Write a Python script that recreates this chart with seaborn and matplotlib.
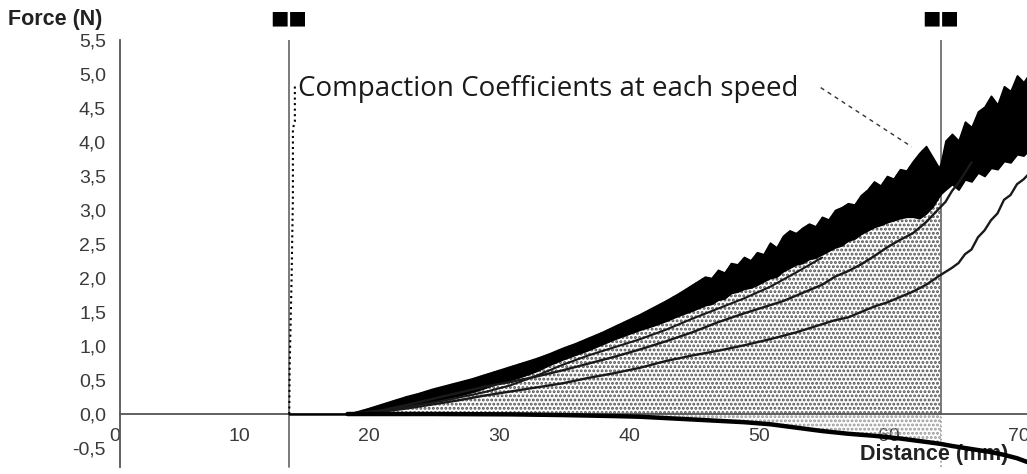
import matplotlib
matplotlib.use('Agg')
import matplotlib.pyplot as plt
import seaborn as sns
import numpy as np

sns.set_style('white')
plt.rcParams['font.family'] = ['Liberation Sans', 'DejaVu Sans']
plt.rcParams['hatch.linewidth'] = 1.4

# dense band of the fast runs (envelope)
band_x = [13, 17.5, 19, 20, 21, 22, 23, 24, 25, 26, 27, 28, 29, 30, 31, 32, 33, 34, 35, 36, 37, 38, 39, 40, 41, 42, 43, 44, 45,
          45.5, 46, 46.5, 47, 47.5, 48, 48.5, 49, 49.5, 50, 50.5, 51, 51.5, 52, 52.5, 53, 53.5, 54, 54.5, 55,
          55.5, 56, 56.5, 57, 57.5, 58, 58.5, 59, 59.5, 60, 60.5, 61, 61.5, 62, 62.5, 63, 63.15,
          63.5, 64, 64.5, 65, 65.5, 66, 66.5, 67, 67.5, 68, 68.5, 69, 69.5, 70]
band_top = [0, 0, 0.08, 0.14, 0.2, 0.26, 0.31, 0.37, 0.42, 0.47, 0.52, 0.58, 0.64, 0.7, 0.76, 0.82, 0.89, 0.97, 1.04, 1.12, 1.2, 1.29, 1.38, 1.47, 1.57, 1.67, 1.78, 1.9, 2.02,
            2.0, 2.12, 2.08, 2.22, 2.2, 2.31, 2.26, 2.38, 2.35, 2.52, 2.45, 2.62, 2.7, 2.66, 2.74, 2.8, 2.76, 2.9, 2.86, 3.0,
            3.04, 3.1, 3.08, 3.22, 3.3, 3.42, 3.36, 3.5, 3.46, 3.6, 3.58, 3.72, 3.84, 3.94, 3.78, 3.62, 3.7,
            4.02, 4.12, 4.02, 4.3, 4.22, 4.45, 4.52, 4.68, 4.55, 4.82, 4.75, 4.98, 4.88, 5.02]
band_bottom = [0, 0, 0.03, 0.05, 0.08, 0.12, 0.15, 0.19, 0.23, 0.27, 0.32, 0.38, 0.45, 0.5, 0.56, 0.63, 0.72, 0.8, 0.87, 0.94, 1.02, 1.1, 1.17, 1.24, 1.3, 1.37, 1.45, 1.52, 1.6,
               1.62, 1.68, 1.7, 1.78, 1.8, 1.84, 1.86, 1.9, 1.95, 2.0, 2.02, 2.1, 2.15, 2.2, 2.22, 2.28, 2.3, 2.35, 2.4, 2.45,
               2.48, 2.55, 2.58, 2.65, 2.7, 2.75, 2.78, 2.82, 2.85, 2.88, 2.9, 2.9, 2.88, 2.95, 3.05, 3.2, 3.24,
               3.3, 3.38, 3.3, 3.45, 3.42, 3.55, 3.5, 3.62, 3.6, 3.72, 3.7, 3.82, 3.8, 3.9]

# run just under the band
near_x = [17.5, 20, 22, 25, 28, 30, 32, 34, 36, 38, 40, 42, 44, 46, 48, 50, 52, 54]
near_y = [0, 0.04, 0.1, 0.2, 0.32, 0.42, 0.56, 0.72, 0.86, 0.98, 1.1, 1.24, 1.4, 1.55, 1.7, 1.87, 2.08, 2.3]

# middle run
mid_x = [17.5, 20, 22, 24, 26, 28, 30, 32, 34, 36, 38, 40, 42, 44, 46, 48, 50, 51, 52, 53, 54, 55, 56,
         57, 58, 59, 60, 61, 62, 63, 63.5, 64, 64.5, 65, 65.5]
mid_y = [0, 0.05, 0.13, 0.22, 0.31, 0.4, 0.47, 0.55, 0.64, 0.74, 0.84, 0.95, 1.07, 1.2, 1.35, 1.48, 1.6, 1.66, 1.74, 1.82, 1.9, 2.02, 2.1,
         2.2, 2.32, 2.45, 2.56, 2.66, 2.82, 3.02, 3.12, 3.28, 3.4, 3.55, 3.7]

# slowest run
low_x = [17.5, 20, 22, 24, 26, 28, 30, 32, 34, 36, 38, 40, 42, 44, 46, 48, 50, 52, 54, 55, 56, 57, 58, 59, 60,
         61, 62, 63, 64, 64.5, 65, 65.5, 66, 66.5, 67, 67.5, 68, 68.5, 69, 69.5, 70]
low_y = [0, 0.03, 0.08, 0.14, 0.2, 0.27, 0.33, 0.39, 0.45, 0.53, 0.6, 0.68, 0.78, 0.86, 0.93, 1.01, 1.1, 1.2, 1.32, 1.38, 1.42, 1.5, 1.58, 1.64, 1.72,
         1.8, 1.9, 2.03, 2.15, 2.22, 2.35, 2.42, 2.6, 2.7, 2.85, 2.95, 3.15, 3.22, 3.38, 3.45, 3.55]

# negative trace
neg_x = [17.5, 24, 30, 34, 38, 40, 42, 44, 46, 48, 50, 52, 54, 56, 58, 60, 62, 63.15, 64, 65, 66, 67, 68, 69, 70]
neg_y = [0, 0, -0.005, -0.015, -0.03, -0.04, -0.06, -0.08, -0.1, -0.12, -0.15, -0.2, -0.25, -0.29, -0.32, -0.36, -0.41, -0.44,
         -0.47, -0.5, -0.53, -0.56, -0.6, -0.65, -0.72]

# start spike (dotted) and annotation leader
spike_x = [13.02, 13.05, 13.2, 13.3, 13.3, 13.45, 13.45]
spike_y = [0, 0.66, 2.0, 3.2, 4.2, 4.3, 4.85]
lead_x = [53.9, 60.9]
lead_y = [4.8, 3.93]

cursor_x = [13.0, 63.15]
x_ticks = [0, 10, 20, 30, 40, 50, 60, 70]
y_ticks = [-0.5, 0.0, 0.5, 1.0, 1.5, 2.0, 2.5, 3.0, 3.5, 4.0, 4.5, 5.0, 5.5]
y_labels = ['-0,5', '0,0', '0,5', '1,0', '1,5', '2,0', '2,5', '3,0', '3,5', '4,0', '4,5', '5,0', '5,5']

W, H = 1027, 474
fig = plt.figure(figsize=(W / 100, H / 100), dpi=100)
ax = fig.add_axes([120 / W, 0, 910 / W, 434 / H])
ax.set_xlim(0, 70)
ax.set_ylim(-0.882, 5.5)

# hatched area between the cursors
bx = np.array(band_x)
bt = np.array(band_top)
m = bx <= 63.15
ax.fill_between(bx[m], 0, bt[m], facecolor='none', edgecolor='#505050', hatch='....', lw=0, zorder=1)
nx = np.array(neg_x)
ny = np.array(neg_y)
mn = nx <= 63.15
ax.fill_between(nx[mn], ny[mn], 0, facecolor='none', edgecolor='#999999', hatch='....', lw=0, zorder=1)

# cursors
for cx in cursor_x:
    ax.plot([cx, cx], [0, 5.5], color='#707070', lw=1.3, zorder=2)
ax.plot([cursor_x[0], cursor_x[0]], [-0.78, 0], color='#707070', lw=1.3, zorder=2)
ax.plot([cursor_x[1], cursor_x[1]], [-0.78, 0], color='#9a9a9a', lw=1.2, ls=':', zorder=2)
for cx in cursor_x:
    ax.text(cx, 5.83, '■■', ha='center', va='center', fontsize=14, color='black',
            family=['DejaVu Sans'], clip_on=False)

# curves
ax.fill_between(band_x, band_bottom, band_top, color='black', lw=1.2, zorder=4)
sns.lineplot(x=near_x, y=near_y, ax=ax, color='#1a1a1a', lw=1.5, estimator=None, sort=False, zorder=5)
sns.lineplot(x=mid_x, y=mid_y, ax=ax, color='#1a1a1a', lw=1.7, estimator=None, sort=False, zorder=5)
sns.lineplot(x=low_x, y=low_y, ax=ax, color='#1a1a1a', lw=1.7, estimator=None, sort=False, zorder=5)
sns.lineplot(x=neg_x, y=neg_y, ax=ax, color='black', lw=3.2, estimator=None, sort=False, zorder=6)
sns.lineplot(x=spike_x, y=spike_y, ax=ax, color='black', lw=1.5, ls=':', estimator=None, sort=False, zorder=5)
sns.lineplot(x=lead_x, y=lead_y, ax=ax, color='#333333', lw=1, ls=(0, (3, 3)), estimator=None, sort=False, zorder=5)

ax.text(13.7, 4.78, 'Compaction Coefficients at each speed', fontsize=20, family=['Open Sans', 'DejaVu Sans'],
        color='#1a1a1a', ha='left', va='center', zorder=7)

# axes styling
for s in ['top', 'right']:
    ax.spines[s].set_visible(False)
ax.spines['bottom'].set_position(('data', 0))
ax.spines['left'].set_bounds(-0.78, 5.5)
for s in ['bottom', 'left']:
    ax.spines[s].set_color('#555555')
    ax.spines[s].set_linewidth(1.3)

ax.set_xticks(x_ticks)
ax.set_xticklabels([str(t) for t in x_ticks], ha='right')
ax.tick_params(axis='x', direction='in', length=7, width=1.2, color='#555555', pad=10,
               labelsize=14, labelcolor='#3a3a3a')
ax.set_yticks(y_ticks)
ax.set_yticklabels(y_labels)
ax.tick_params(axis='y', direction='out', length=7, width=1.2, color='#555555', pad=3,
               labelsize=14, labelcolor='#3a3a3a')
ax.set_xlabel('')
ax.set_ylabel('')

fig.text(8 / W, 1 - 20 / H, 'Force (N)', fontsize=15.5, fontweight='bold', color='#222222', ha='left', va='center')
ax.text(56.9, -0.6, 'Distance (mm)', fontsize=15.5, fontweight='bold', color='#222222', ha='left', va='center',
        zorder=3, clip_on=False)

fig.savefig('out.png', dpi=100)
